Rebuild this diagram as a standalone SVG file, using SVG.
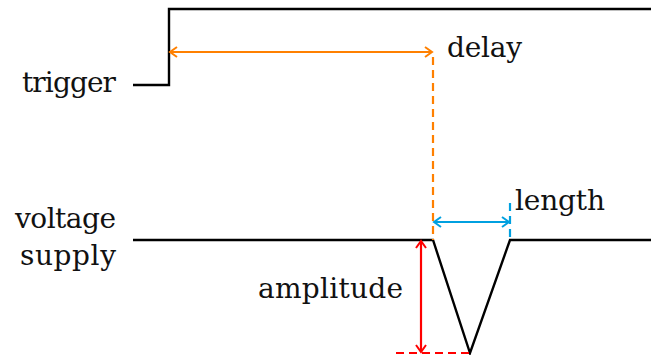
<svg xmlns="http://www.w3.org/2000/svg" width="651" height="355" viewBox="0 0 651 355">
<style>
text{font-family:"DejaVu Serif","Liberation Serif",serif;font-size:28px;fill:#111}
.sig{fill:none;stroke:#000;stroke-width:2.4}
.or{stroke:#ff8000;stroke-width:2.2;fill:none}
.bl{stroke:#00a0e0;stroke-width:2.2;fill:none}
.rd{stroke:#ff0000;stroke-width:2.2;fill:none}
.dash{stroke-dasharray:8 5}
</style>
<defs>
<marker id="ao" viewBox="-10 -6 12 12" markerWidth="12" markerHeight="12" refX="0" refY="0" orient="auto-start-reverse" markerUnits="userSpaceOnUse"><path d="M-7,-5 L0,0 L-7,5" fill="none" stroke="#ff8000" stroke-width="2"/></marker>
<marker id="ab" viewBox="-10 -6 12 12" markerWidth="12" markerHeight="12" refX="0" refY="0" orient="auto-start-reverse" markerUnits="userSpaceOnUse"><path d="M-7,-5 L0,0 L-7,5" fill="none" stroke="#00a0e0" stroke-width="2"/></marker>
<marker id="ar" viewBox="-10 -6 12 12" markerWidth="12" markerHeight="12" refX="0" refY="0" orient="auto-start-reverse" markerUnits="userSpaceOnUse"><path d="M-7,-5 L0,0 L-7,5" fill="none" stroke="#ff0000" stroke-width="2"/></marker>
</defs>
<g id="trigger">
<path class="sig" d="M133,85 H169 V9 H651"/>
<text x="116" y="92" text-anchor="end" textLength="94">trigger</text>
</g>
<g id="voltage-supply">
<path class="sig" d="M133,240 H433 L470,353 L510,240 H651"/>
<text x="116" y="228" text-anchor="end" textLength="101">voltage</text>
<text x="116" y="265" text-anchor="end" textLength="96">supply</text>
</g>
<g id="connectors">
<path class="or" d="M170,52 H432" marker-start="url(#ao)" marker-end="url(#ao)"/>
<path class="or dash" d="M433,57 V240"/>
<path class="bl" d="M434,222 H509" marker-start="url(#ab)" marker-end="url(#ab)"/>
<path class="bl dash" d="M510,203 V240"/>
<path class="rd" d="M421,241 V352" marker-start="url(#ar)" marker-end="url(#ar)"/>
<path class="rd dash" d="M396,353 H470"/>
</g>
<g id="labels">
<text x="447" y="57" textLength="75">delay</text>
<text x="515" y="210" textLength="90">length</text>
<text x="258" y="298" textLength="145">amplitude</text>
</g>
</svg>
